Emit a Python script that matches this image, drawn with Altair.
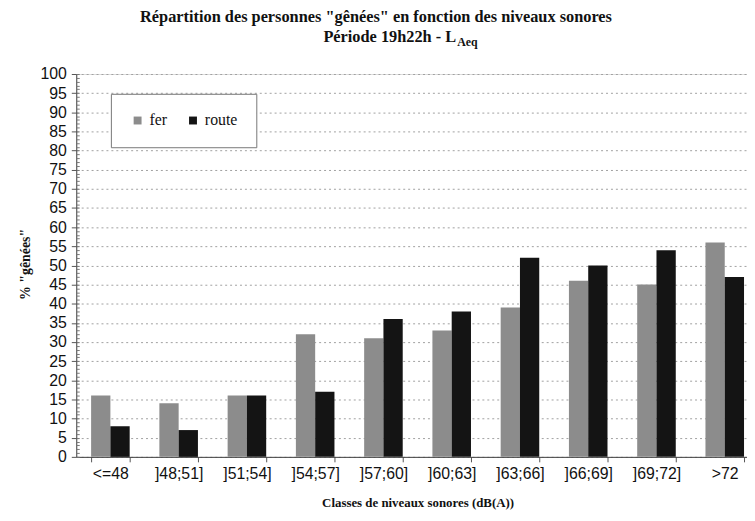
import altair as alt
import pandas as pd

categories = ["<=48", "]48;51]", "]51;54]", "]54;57]", "]57;60]",
              "]60;63]", "]63;66]", "]66;69]", "]69;72]", ">72"]
fer = [16, 14, 16, 32, 31, 33, 39, 46, 45, 56]
route = [8, 7, 16, 17, 36, 38, 52, 50, 54, 47]
series = ["fer", "route"]
colors = ["#8c8c8c", "#141414"]
y_ticks = list(range(0, 101, 5))
minor_ticks = list(range(0, 101, 1))

title_line1 = 'Répartition des personnes "gênées" en fonction des niveaux sonores'
title_line2 = "Période 19h22h - L"
title_sub = "Aeq"

rows = []
for c, f, r in zip(categories, fer, route):
    rows.append({"cat": c, "serie": "fer", "value": f})
    rows.append({"cat": c, "serie": "route", "value": r})
df = pd.DataFrame(rows)

W, H = 690, 387
yscale = alt.Scale(domain=[0, 100], nice=False)

x_enc = alt.X(
    "cat:N", sort=categories,
    scale=alt.Scale(paddingInner=0.435, paddingOuter=0.2175),
    axis=alt.Axis(
        title="Classes de niveaux sonores (dB(A))", labelAngle=0,
        tickBand="extent", tickSize=5, tickColor="#555", domainColor="#444",
        labelFont="Liberation Sans", labelFontSize=16, labelColor="#111",
        labelPadding=4, titleFont="Liberation Serif", titleFontSize=13,
        titleFontWeight="bold", titleColor="#111", titleBaseline="top",
        titleY=40,
    ),
)

bars = alt.Chart(df).mark_bar().encode(
    x=x_enc,
    xOffset=alt.XOffset("serie:N", sort=series,
                        scale=alt.Scale(paddingInner=0, paddingOuter=0)),
    y=alt.Y(
        "value:Q", scale=yscale,
        axis=alt.Axis(
            values=y_ticks, grid=True, gridDash=[2, 3], gridColor="#a0a0a0",
            tickSize=5, tickColor="#555", domainColor="#444", orient="left",
            labelFont="Liberation Sans", labelFontSize=16, labelColor="#111",
            labelPadding=5, title='% "gênées"', titleFont="Liberation Serif",
            titleFontSize=14, titleFontWeight="bold", titleColor="#111",
            titleX=-44, titleY=192,
        ),
    ),
    color=alt.Color(
        "serie:N", sort=series,
        scale=alt.Scale(domain=series, range=colors),
        legend=alt.Legend(
            title=None, orient="none", legendX=35, legendY=20,
            direction="horizontal", symbolType="square", symbolSize=64,
            symbolStrokeWidth=0, labelFont="Liberation Serif", labelFontSize=16,
            labelColor="#111", labelOffset=4, columnPadding=18, padding=19,
            strokeColor="#777", fillColor="white",
        ),
    ),
)

minor = alt.Chart(df).mark_point(opacity=0).encode(
    y=alt.Y(
        "value:Q", scale=yscale,
        axis=alt.Axis(values=minor_ticks, labels=False, grid=False,
                      domain=False, tickSize=3, offset=-3, title=None,
                      orient="left", tickColor="#777"),
    )
)

one = pd.DataFrame({"k": [0]})
line1 = alt.Chart(one).mark_text(
    text=title_line1, align="center", baseline="alphabetic",
    font="Liberation Serif", fontSize=16.5, fontWeight="bold", color="#111",
).encode(x=alt.value(303), y=alt.value(-53))
line2 = alt.Chart(one).mark_text(
    text=title_line2, align="right", baseline="alphabetic",
    font="Liberation Serif", fontSize=16.5, fontWeight="bold", color="#111",
).encode(x=alt.value(384), y=alt.value(-32))
sub = alt.Chart(one).mark_text(
    text=title_sub, align="left", baseline="alphabetic",
    font="Liberation Serif", fontSize=12, fontWeight="bold", color="#111",
).encode(x=alt.value(385), y=alt.value(-28))

chart = alt.layer(bars, minor, line1, line2, sub).resolve_axis(
    y="independent"
).properties(
    width=W, height=H,
    padding={"left": 69, "top": 64, "right": -12, "bottom": 54},
    autosize=alt.AutoSizeParams(type="none"),
).configure_view(stroke=None).configure(background="white")

chart.save("out.html", embed_options={"renderer": "svg", "actions": False})
